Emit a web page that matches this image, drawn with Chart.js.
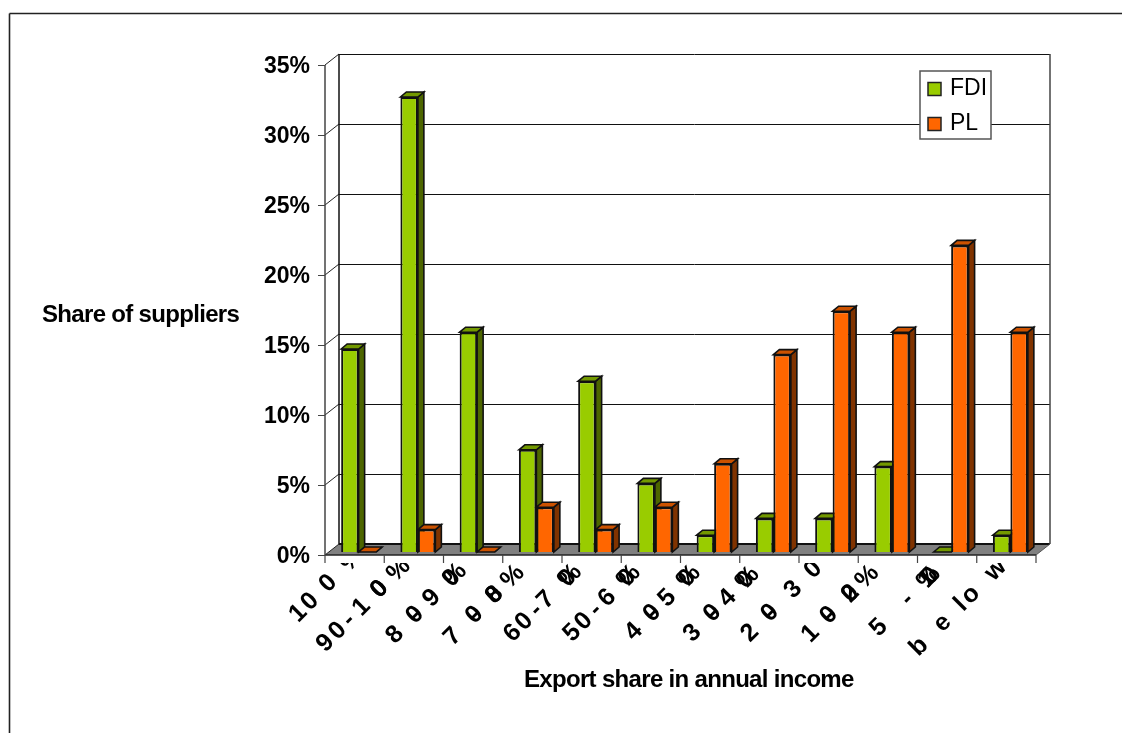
<!DOCTYPE html>
<html>
<head>
<meta charset="utf-8">
<title>Export share in annual income</title>
<script src="https://cdn.jsdelivr.net/npm/chart.js@4"></script>
<style>
    html, body { margin: 0; padding: 0; background: #fff; overflow: hidden; }
    canvas { display: block; }
</style>
</head>
<body>
<canvas id="exportChart" width="1122" height="733"></canvas>
<script>
const categories = ["100%", "90-100%", "80-90%", "70-80%", "60-70%", "50-60%", "40-50%", "30-40%", "20-30%", "10-20%", "5-10%", "below 5%"];
const fdiValues = [14.5, 32.5, 15.7, 7.3, 12.2, 4.9, 1.2, 2.4, 2.4, 6.1, 0, 1.2];
const plValues = [0, 1.6, 0, 3.2, 1.6, 3.2, 6.3, 14.1, 17.2, 15.7, 21.9, 15.7];
const yTicks = [0, 5, 10, 15, 20, 25, 30, 35];

const FONT = '"Liberation Sans", Arial, sans-serif';
const GREEN = { front: "#99CC00", top: "#739900", side: "#4D6600" };
const ORANGE = { front: "#FF6600", top: "#CC5200", side: "#803300" };

// the 3D look: the library's plot plane sits in the middle of the box
const FRONT = { x: -4, y: 3 };  // front axis, relative to the bars
const BACK = { x: 10, y: -8 };  // back wall, relative to the bars
const BAR_DEPTH = { x: 6, y: -5 };

// The source renders its slanted labels with uneven glyph spacing, so each
// glyph gets its own offset from the category's left tick, along the 45deg line.
const glyphOffsets = [
    [-26.7, -15, 3.3, 27],
    [-58.7, -46.4, -35.4, -22.7, -4.7, -4.7, 14.6],
    [-48.5, -28.5, -28.5, -11.8, 8.2, 11.5],
    [-49.9, -28.3, -28.3, -8.3, -8.3, 10],
    [-49.3, -37.7, -26, -16, 5.7, 8],
    [-49, -37.4, -25.7, -14, 6, 7.6],
    [-46.7, -28.3, -28.3, -13.3, 6.7, 8.3],
    [-47.3, -27.3, -27.3, -12.3, 6, 7.7],
    [-49, -29, -29, -5.7, 14.3, 40],
    [-47.6, -29.3, -29.3, -7.6, -7.6, 9],
    [-38.7, -10.3, 9.7, 13, 11.3],
    [-57.7, -34.3, -16, -6, 19, 30, 40, 55]
];
const glyphLine = [586.7, 584.6, 586.5, 586.7, 584, 584, 585, 586, 584, 586, 589, 589];

function poly(ctx, pts, fill, stroke, width) {
    ctx.beginPath();
    pts.forEach((p, i) => i ? ctx.lineTo(p[0], p[1]) : ctx.moveTo(p[0], p[1]));
    ctx.closePath();
    if (fill) { ctx.fillStyle = fill; ctx.fill(); }
    if (stroke) { ctx.strokeStyle = stroke; ctx.lineWidth = width || 1; ctx.stroke(); }
}

function line(ctx, x1, y1, x2, y2, color, width) {
    ctx.beginPath();
    ctx.moveTo(x1, y1);
    ctx.lineTo(x2, y2);
    ctx.strokeStyle = color;
    ctx.lineWidth = width;
    ctx.stroke();
}

function drawWalls(chart) {
    const ctx = chart.ctx, xs = chart.scales.x, ys = chart.scales.y;
    const left = xs.left, right = xs.right;
    const y0 = ys.getPixelForValue(0), yTop = ys.getPixelForValue(yTicks[yTicks.length - 1]);

    // floor
    poly(ctx, [
        [left + FRONT.x, y0 + FRONT.y], [right + FRONT.x, y0 + FRONT.y],
        [right + BACK.x, y0 + BACK.y], [left + BACK.x, y0 + BACK.y]
    ], "#808080");
    line(ctx, left + BACK.x, y0 + BACK.y, right + BACK.x, y0 + BACK.y, "#111", 2);
    line(ctx, left + FRONT.x, y0 + FRONT.y, right + FRONT.x, y0 + FRONT.y, "#222", 1.5);
    line(ctx, right + FRONT.x, y0 + FRONT.y, right + BACK.x, y0 + BACK.y, "#555", 1);

    // gridlines, value ticks and the diagonals on the left wall
    yTicks.forEach(v => {
        const y = ys.getPixelForValue(v);
        if (v > 0) line(ctx, left + BACK.x, y + BACK.y + 0.5, right + BACK.x, y + BACK.y + 0.5, "#111", 1);
        line(ctx, left + FRONT.x, y + FRONT.y, left + BACK.x, y + BACK.y, "#222", 1);
        line(ctx, left + FRONT.x - 7, y + FRONT.y + 0.5, left + FRONT.x, y + FRONT.y + 0.5, "#444", 1);
    });

    // wall edges
    line(ctx, left + FRONT.x, yTop + FRONT.y, left + FRONT.x, y0 + FRONT.y, "#444", 1.5);
    line(ctx, left + BACK.x, yTop + BACK.y, left + BACK.x, y0 + BACK.y, "#111", 1.5);
    line(ctx, right + BACK.x, yTop + BACK.y, right + BACK.x, y0 + BACK.y, "#444", 1.5);

    // category ticks under the front edge
    const step = (right - left) / categories.length;
    for (let i = 0; i <= categories.length; i++) {
        const x = left + FRONT.x + i * step;
        line(ctx, x, y0 + FRONT.y, x, y0 + FRONT.y + 8, "#444", 1.2);
    }
}

function drawBarBoxes(chart) {
    const ctx = chart.ctx;
    const colors = [GREEN, ORANGE];
    chart.data.datasets.forEach((ds, d) => {
        chart.getDatasetMeta(d).data.forEach(bar => {
            const p = bar.getProps(["x", "y", "base", "width"], true);
            const l = p.x - p.width / 2, r = p.x + p.width / 2;
            const dx = BAR_DEPTH.x, dy = BAR_DEPTH.y;
            poly(ctx, [[r, p.y], [r + dx, p.y + dy], [r + dx, p.base + dy], [r, p.base]], colors[d].side, "#111", 1.6);
            poly(ctx, [[l, p.y], [l + dx, p.y + dy], [r + dx, p.y + dy], [r, p.y]], colors[d].top, "#111", 1.6);
        });
    });
}

function drawCategoryLabels(chart) {
    const ctx = chart.ctx, xs = chart.scales.x;
    const step = (xs.right - xs.left) / categories.length;
    ctx.save();
    ctx.beginPath();
    ctx.rect(0, 563, chart.width, chart.height - 563);
    ctx.clip();
    ctx.font = "bold 25px " + FONT;
    ctx.fillStyle = "#000";
    ctx.textAlign = "center";
    ctx.textBaseline = "middle";
    categories.forEach((label, i) => {
        const tick = xs.getPixelForValue(i) - step / 2 + FRONT.x;
        Array.from(label).forEach((ch, g) => {
            const off = glyphOffsets[i][g];
            ctx.save();
            ctx.translate(tick + off, glyphLine[i] - off);
            ctx.rotate(-Math.PI / 4);
            ctx.fillText(ch, 0, 0);
            ctx.restore();
        });
    });
    ctx.restore();
}

function drawTitles(chart) {
    const ctx = chart.ctx;
    ctx.save();
    ctx.fillStyle = "#000";
    ctx.textBaseline = "middle";
    ctx.textAlign = "left";
    ctx.font = "bold 24px " + FONT;
    ctx.letterSpacing = "-0.68px";
    ctx.fillText("Share of suppliers", 42, 315);
    ctx.fillText("Export share in annual income", 524, 680);
    ctx.restore();
}

function drawLegend(chart) {
    const ctx = chart.ctx;
    const colors = [GREEN, ORANGE];
    ctx.save();
    ctx.fillStyle = "#fff";
    ctx.fillRect(920, 71, 71, 68);
    ctx.strokeStyle = "#555";
    ctx.lineWidth = 1.5;
    ctx.strokeRect(920, 71, 71, 68);
    ctx.font = "23px " + FONT;
    ctx.textBaseline = "middle";
    ctx.textAlign = "left";
    chart.data.datasets.forEach((ds, i) => {
        const y = 89 + i * 35;
        ctx.fillStyle = colors[i].front;
        ctx.fillRect(928, y - 6.5, 13, 13);
        ctx.strokeStyle = "#222";
        ctx.strokeRect(928, y - 6.5, 13, 13);
        ctx.fillStyle = "#000";
        ctx.fillText(ds.label, 950, y);
    });
    ctx.restore();
}

const threeDPlugin = {
    id: "threeD",
    beforeDatasetsDraw(chart) {
        drawWalls(chart);
        drawBarBoxes(chart);
    },
    afterDatasetsDraw(chart) {
        drawCategoryLabels(chart);
        drawTitles(chart);
        drawLegend(chart);
        // page frame, open at the right and the bottom
        const ctx = chart.ctx;
        line(ctx, 9.5, 13.5, chart.width, 13.5, "#222", 1.6);
        line(ctx, 9.5, 13.5, 9.5, chart.height, "#222", 1.6);
    }
};

window.onload = () => {
    let ctx = document.getElementById("exportChart").getContext("2d");
    new Chart(ctx, {
        type: "bar",
        data: {
            labels: categories,
            datasets: [
                { label: "FDI", data: fdiValues, backgroundColor: GREEN.front, borderColor: "#111", borderWidth: 2 },
                { label: "PL", data: plValues, backgroundColor: ORANGE.front, borderColor: "#111", borderWidth: 2 }
            ]
        },
        options: {
            responsive: false,
            animation: false,
            devicePixelRatio: 1,
            layout: { padding: { left: 0, top: 62, right: 82, bottom: 181 } },
            datasets: { bar: { categoryPercentage: 0.59, barPercentage: 1 } },
            plugins: { legend: { display: false }, tooltip: { enabled: false } },
            scales: {
                x: {
                    grid: { display: false },
                    border: { display: false },
                    ticks: { display: false },
                    afterFit: s => { s.height = 0; }
                },
                y: {
                    min: 0,
                    max: 35,
                    grid: { display: false },
                    border: { display: false },
                    afterFit: s => { s.width = 329; },
                    ticks: {
                        stepSize: 5,
                        padding: 11,
                        labelOffset: 5,
                        color: "#000",
                        font: { family: FONT, size: 23, weight: "bold" },
                        callback: v => v + "%"
                    }
                }
            }
        },
        plugins: [threeDPlugin]
    });
};
</script>
</body>
</html>
